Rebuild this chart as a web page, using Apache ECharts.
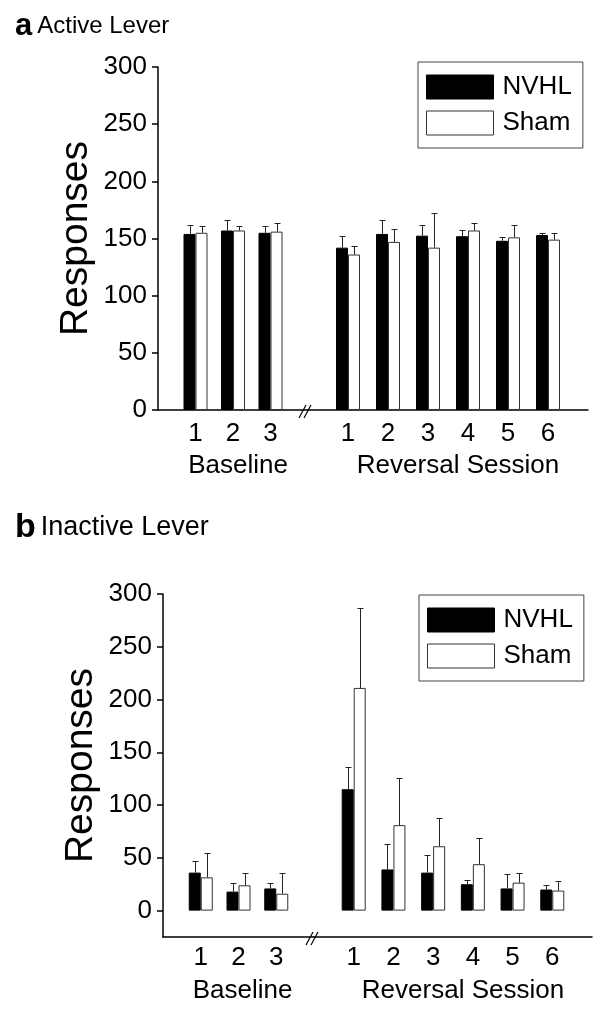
<!DOCTYPE html>
<html>
<head>
<meta charset="utf-8">
<script src="https://cdn.jsdelivr.net/npm/echarts@6/dist/echarts.min.js"></script>
<style>
  html, body { margin: 0; padding: 0; background: #fff; }
  #chart { width: 602px; height: 1010px; }
</style>
</head>
<body>
<div id="chart"></div>
<script>
const baselineDays = ['1', '2', '3'];
const reversalDays = ['1', '2', '3', '4', '5', '6'];
const yTicks = [0, 50, 100, 150, 200, 250, 300];

// a: active lever (mean, SEM)
const activeBaseNvhl = [154, 157, 155];
const activeBaseNvhlErr = [8, 9, 6];
const activeBaseSham = [155, 157, 156];
const activeBaseShamErr = [6, 4, 7.5];
const activeRevNvhl = [142, 154, 152.5, 152, 148, 153];
const activeRevNvhlErr = [10.5, 12, 9, 5, 3.5, 1.5];
const activeRevSham = [136, 147, 142, 157, 151, 149];
const activeRevShamErr = [7.5, 11.5, 30, 6.5, 11, 5.5];

// b: inactive lever (mean, SEM)
const inactiveBaseNvhl = [36, 18, 21];
const inactiveBaseNvhlErr = [11, 8, 5.5];
const inactiveBaseSham = [31.5, 24, 16];
const inactiveBaseShamErr = [23, 12, 19.5];
const inactiveRevNvhl = [115, 39, 36, 25, 21, 20];
const inactiveRevNvhlErr = [21, 24, 16.5, 4, 13.5, 4];
const inactiveRevSham = [211, 81, 61, 44, 26.5, 19];
const inactiveRevShamErr = [76, 45, 26.5, 25, 9, 9];

const FONT = 'Liberation Sans, Arial, sans-serif';
const nvhlStyle = { color: '#000', borderColor: '#000', borderWidth: 1 };
const shamStyle = { color: '#fff', borderColor: '#333', borderWidth: 1 };

let chart = echarts.init(document.getElementById('chart'), null, { renderer: 'canvas' });

function barSeries(name, idx, values, style) {
  return {
    type: 'bar', name: name, xAxisIndex: idx, yAxisIndex: idx,
    barWidth: 12, barGap: '0%', silent: true,
    itemStyle: style,
    data: values.map((v, i) => [i + 1, v])
  };
}

function errSeries(name, idx, values, errs, dx) {
  return {
    type: 'custom', name: name, xAxisIndex: idx, yAxisIndex: idx, silent: true, z: 5,
    encode: { x: 0, y: 1 },
    data: values.map((v, i) => [i + 1, v, errs[i]]),
    renderItem: function (params, api) {
      let x = api.value(0), y = api.value(1), e = api.value(2);
      let p0 = api.coord([x, y]);
      let p1 = api.coord([x, y + e]);
      let cx = Math.round(p0[0] + dx) + 0.5;
      let ty = Math.round(p1[1]) + 0.5;
      let st = { stroke: '#222', lineWidth: 1 };
      return {
        type: 'group',
        children: [
          { type: 'line', shape: { x1: cx, y1: p0[1], x2: cx, y2: ty }, style: st },
          { type: 'line', shape: { x1: cx - 3, y1: ty, x2: cx + 3, y2: ty }, style: st }
        ]
      };
    }
  };
}

function xAxisDef(idx, labels, name, shift, margin, nameGap) {
  return {
    type: 'value', gridIndex: idx, min: 0, max: labels.length + 1, interval: 1,
    axisLine: { onZero: false, lineStyle: { color: '#000', width: 1.5 } },
    axisTick: { show: false },
    splitLine: { show: false },
    axisLabel: {
      margin: margin, fontSize: 26, color: '#000', fontFamily: FONT,
      formatter: v => labels[v - 1] || ''
    },
    name: name, nameLocation: 'middle', nameGap: nameGap,
    nameTextStyle: { fontSize: 26, color: '#000', fontFamily: FONT, padding: [0, 0, 0, shift] }
  };
}

function yAxisDef(idx, min, visible) {
  return {
    type: 'value', gridIndex: idx, min: min, max: 300, interval: 50,
    show: visible,
    axisLine: { show: true, onZero: false, lineStyle: { color: '#000', width: 1.5 } },
    axisTick: { show: true, length: 6, customValues: yTicks, lineStyle: { color: '#000', width: 1.5 } },
    axisLabel: { margin: 11, fontSize: 26, color: '#000', fontFamily: FONT, customValues: yTicks },
    splitLine: { show: false },
    name: 'Responses', nameLocation: 'middle', nameGap: 62,
    nameTextStyle: { fontSize: 39, color: '#000', fontFamily: FONT }
  };
}

function legendDef(left, top) {
  return {
    left: left, top: top, orient: 'vertical',
    itemWidth: 67, itemHeight: 24, itemGap: 10,
    padding: [12, 11, 12, 8],
    borderColor: '#444', borderWidth: 1,
    selectedMode: false,
    textStyle: { fontSize: 26, color: '#000', fontFamily: FONT, padding: [0, 0, 0, 4] },
    data: [
      { name: 'NVHL', icon: 'rect', itemStyle: nvhlStyle },
      { name: 'Sham', icon: 'rect', itemStyle: shamStyle }
    ]
  };
}

function titleDef(letter, text, top, letterSize, textSize) {
  return {
    left: 10, top: top,
    text: '{l|' + letter + '} {t|' + text + '}',
    textStyle: {
      fontWeight: 'normal',
      rich: {
        l: { fontSize: letterSize, fontWeight: 'bold', color: '#000', fontFamily: FONT },
        t: { fontSize: textSize, fontWeight: 'normal', color: '#000', fontFamily: FONT }
      }
    }
  };
}

function breakMark(x, y) {
  let st = { stroke: '#000', lineWidth: 1.2 };
  return [
    { type: 'line', shape: { x1: x - 8, y1: y + 7, x2: x - 1, y2: y - 6 }, style: st },
    { type: 'line', shape: { x1: x - 3, y1: y + 7, x2: x + 4, y2: y - 6 }, style: st }
  ];
}

let option = {
  animation: false,
  backgroundColor: '#fff',
  title: [
    titleDef('a', 'Active Lever', 6, 31, 24),
    titleDef('b', 'Inactive Lever', 506, 34, 27)
  ],
  legend: [legendDef(418, 62), legendDef(419, 595)],
  grid: [
    { left: 158, top: 67, width: 150, height: 343 },
    { left: 308, top: 67, width: 280, height: 343 },
    { left: 163, top: 594, width: 151, height: 343 },
    { left: 314, top: 594, width: 278, height: 343 }
  ],
  xAxis: [
    xAxisDef(0, baselineDays, 'Baseline', 10, 11, 43),
    xAxisDef(1, reversalDays, 'Reversal Session', 20, 11, 43),
    xAxisDef(2, baselineDays, 'Baseline', 8, 8, 41),
    xAxisDef(3, reversalDays, 'Reversal Session', 20, 8, 41)
  ],
  yAxis: [
    yAxisDef(0, 0, true),
    yAxisDef(1, 0, false),
    yAxisDef(2, -25, true),
    yAxisDef(3, -25, false)
  ],
  series: [
    barSeries('NVHL', 0, activeBaseNvhl, nvhlStyle),
    barSeries('Sham', 0, activeBaseSham, shamStyle),
    barSeries('NVHL', 1, activeRevNvhl, nvhlStyle),
    barSeries('Sham', 1, activeRevSham, shamStyle),
    barSeries('NVHL', 2, inactiveBaseNvhl, nvhlStyle),
    barSeries('Sham', 2, inactiveBaseSham, shamStyle),
    barSeries('NVHL', 3, inactiveRevNvhl, nvhlStyle),
    barSeries('Sham', 3, inactiveRevSham, shamStyle),
    errSeries('NVHL err', 0, activeBaseNvhl, activeBaseNvhlErr, -6),
    errSeries('Sham err', 0, activeBaseSham, activeBaseShamErr, 6),
    errSeries('NVHL err', 1, activeRevNvhl, activeRevNvhlErr, -6),
    errSeries('Sham err', 1, activeRevSham, activeRevShamErr, 6),
    errSeries('NVHL err', 2, inactiveBaseNvhl, inactiveBaseNvhlErr, -6),
    errSeries('Sham err', 2, inactiveBaseSham, inactiveBaseShamErr, 6),
    errSeries('NVHL err', 3, inactiveRevNvhl, inactiveRevNvhlErr, -6),
    errSeries('Sham err', 3, inactiveRevSham, inactiveRevShamErr, 6)
  ],
  graphic: [].concat(breakMark(307, 411), breakMark(314, 938))
};

chart.setOption(option);
</script>
</body>
</html>
